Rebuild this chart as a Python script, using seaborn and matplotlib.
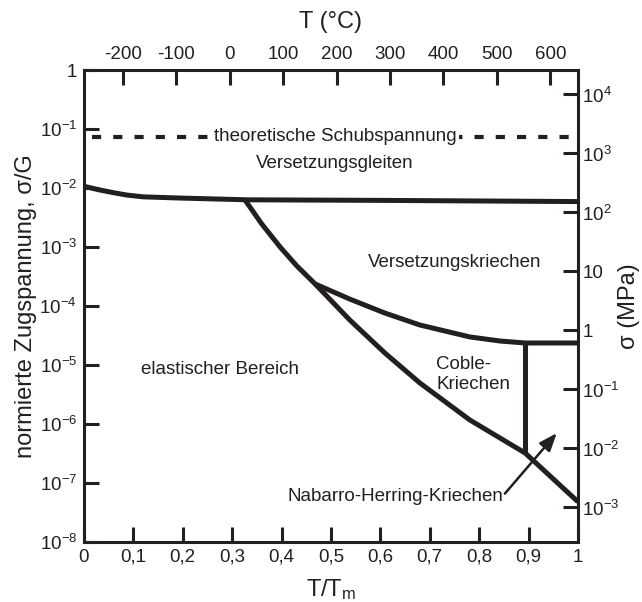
import numpy as np
import pandas as pd
import matplotlib
matplotlib.use("Agg")
import matplotlib.pyplot as plt
import seaborn as sns
from matplotlib.ticker import FixedLocator, FixedFormatter, NullLocator

# ---------------- data ----------------
# boundary: elastic / dislocation glide
glide_x = [0.0, 0.03, 0.06, 0.087, 0.12, 0.194, 0.33, 0.60, 1.0]
glide_y = [1.07e-2, 9.33e-3, 8.32e-3, 7.59e-3, 7.08e-3, 6.76e-3, 6.31e-3, 6.17e-3, 5.89e-3]

# boundary: elastic / dislocation creep and elastic / Coble creep
elastic_x = [0.326, 0.360, 0.397, 0.431, 0.468, 0.538, 0.609, 0.680, 0.781, 0.893]
elastic_y = [6.27e-3, 2.45e-3, 1.0e-3, 4.76e-4, 2.36e-4, 5.79e-5, 1.60e-5, 4.95e-6, 1.17e-6, 3.22e-7]

# boundary: dislocation creep / Coble creep
creep_x = [0.468, 0.538, 0.609, 0.680, 0.781, 0.842, 0.893, 1.0]
creep_y = [2.36e-4, 1.31e-4, 7.6e-5, 4.76e-5, 2.99e-5, 2.55e-5, 2.36e-5, 2.36e-5]

# boundary: Coble / Nabarro-Herring
coble_x = [0.893, 0.893]
coble_y = [2.36e-5, 3.22e-7]

# boundary: Nabarro-Herring / elastic
nh_x = [0.893, 1.0]
nh_y = [3.22e-7, 4.8e-8]

# theoretical shear stress
theo_x = [0.016, 1.0]
theo_y = [7.4e-2, 7.4e-2]

# axes
x_ticks = [0.0, 0.1, 0.2, 0.3, 0.4, 0.5, 0.6, 0.7, 0.8, 0.9, 1.0]
x_labels = ["0", "0,1", "0,2", "0,3", "0,4", "0,5", "0,6", "0,7", "0,8", "0,9", "1"]
y_ticks = [1, 1e-1, 1e-2, 1e-3, 1e-4, 1e-5, 1e-6, 1e-7, 1e-8]
y_labels = ["1", "10$^{-1}$", "10$^{-2}$", "10$^{-3}$", "10$^{-4}$",
            "10$^{-5}$", "10$^{-6}$", "10$^{-7}$", "10$^{-8}$"]
tc_ticks = [-200, -100, 0, 100, 200, 300, 400, 500, 600]
tc_labels = ["-200", "-100", "0", "100", "200", "300", "400", "500", "600"]
mpa_ticks = [1e4, 1e3, 1e2, 1e1, 1, 1e-1, 1e-2, 1e-3]
mpa_labels = ["10$^4$", "10$^3$", "10$^2$", "10", "1", "10$^{-1}$", "10$^{-2}$", "10$^{-3}$"]
T_melt = 925.0      # K
G_shear = 26000.0   # MPa

# ---------------- style ----------------
sns.set_theme(style="white")
plt.rcParams["font.family"] = ["Liberation Sans", "DejaVu Sans"]
plt.rcParams["mathtext.default"] = "regular"
INK = "#231f20"
LW = 3.6
TICK_FS = 13.5
LABEL_FS = 17
TEXT_FS = 13.5

fig = plt.figure(figsize=(6.42, 6.02), dpi=100)
ax = fig.add_axes([0.1308, 0.0997, 0.7695, 0.784])
ax.set_yscale("log")

curves = [(glide_x, glide_y), (elastic_x, elastic_y), (creep_x, creep_y),
          (coble_x, coble_y), (nh_x, nh_y)]
for cx, cy in curves:
    df = pd.DataFrame({"x": cx, "y": cy})
    sns.lineplot(data=df, x="x", y="y", ax=ax, color=INK, lw=LW,
                 sort=False, estimator=None, solid_capstyle="butt")

df_t = pd.DataFrame({"x": theo_x, "y": theo_y})
sns.lineplot(data=df_t, x="x", y="y", ax=ax, color=INK, lw=3.0,
             sort=False, estimator=None)
ax.lines[-1].set_dashes([2.2, 2.9])
ax.lines[-1].set_dash_capstyle("butt")

ax.set_xlim(0, 1)
ax.set_ylim(1e-8, 1)

for s in ax.spines.values():
    s.set_linewidth(2.2)
    s.set_color(INK)

ax.xaxis.set_major_locator(FixedLocator(x_ticks))
ax.xaxis.set_major_formatter(FixedFormatter(x_labels))
ax.yaxis.set_major_locator(FixedLocator(y_ticks))
ax.yaxis.set_major_formatter(FixedFormatter(y_labels))
ax.xaxis.set_minor_locator(NullLocator())
ax.yaxis.set_minor_locator(NullLocator())
ax.tick_params(axis="both", which="major", direction="in", length=11, width=2.2,
               colors=INK, labelsize=TICK_FS, pad=5, labelcolor=INK)
ax.tick_params(top=False, right=False, bottom=True, left=True)

ax.set_xlabel("T/T$_m$", fontsize=LABEL_FS, color=INK, labelpad=8)
ax.set_ylabel("normierte Zugspannung, σ/G", fontsize=LABEL_FS, color=INK, labelpad=2)

# top axis: temperature in °C
axt = ax.twiny()
axt.set_xlim(0 * T_melt - 273.15, 1 * T_melt - 273.15)
axt.xaxis.set_major_locator(FixedLocator(tc_ticks))
axt.xaxis.set_major_formatter(FixedFormatter(tc_labels))
axt.xaxis.set_minor_locator(NullLocator())
axt.tick_params(axis="x", direction="in", length=11, width=2.2, colors=INK,
                labelsize=TICK_FS, pad=5)
axt.set_xlabel("T (°C)", fontsize=LABEL_FS, color=INK, labelpad=13)
for s in axt.spines.values():
    s.set_visible(False)

# right axis: stress in MPa
axr = ax.twinx()
axr.set_yscale("log")
axr.set_ylim(1e-8 * G_shear, 1 * G_shear)
axr.yaxis.set_major_locator(FixedLocator(mpa_ticks))
axr.yaxis.set_major_formatter(FixedFormatter(mpa_labels))
axr.yaxis.set_minor_locator(NullLocator())
axr.tick_params(axis="y", direction="in", length=11, width=2.2, colors=INK,
                labelsize=TICK_FS, pad=3)
axr.set_ylabel("σ (MPa)", fontsize=LABEL_FS, color=INK, labelpad=-1)
for s in axr.spines.values():
    s.set_visible(False)

# region labels
tk = dict(fontsize=TEXT_FS, color=INK)
ax.text(0.508, 7.4e-2, "theoretische Schubspannung", ha="center", va="center",
        bbox=dict(facecolor="white", edgecolor="none", pad=2.0), zorder=5, **tk)
ax.text(0.508, 2.65e-2, "Versetzungsgleiten", ha="center", va="center", **tk)
ax.text(0.751, 5.4e-4, "Versetzungskriechen", ha="center", va="center", **tk)
ax.text(0.275, 8.3e-6, "elastischer Bereich", ha="center", va="center", **tk)
ax.text(0.713, 6.8e-6, "Coble-\nKriechen", ha="left", va="center",
        linespacing=1.25, **tk)
ax.text(0.848, 6.0e-8, "Nabarro-Herring-Kriechen", ha="right", va="center", **tk)
ax.annotate("", xy=(0.957, 7.0e-7), xytext=(0.852, 6.6e-8),
            arrowprops=dict(arrowstyle="-|>,head_length=0.9,head_width=0.35",
                            color=INK, lw=1.8, shrinkA=0, shrinkB=0))

fig.savefig("out.png", dpi=100)
